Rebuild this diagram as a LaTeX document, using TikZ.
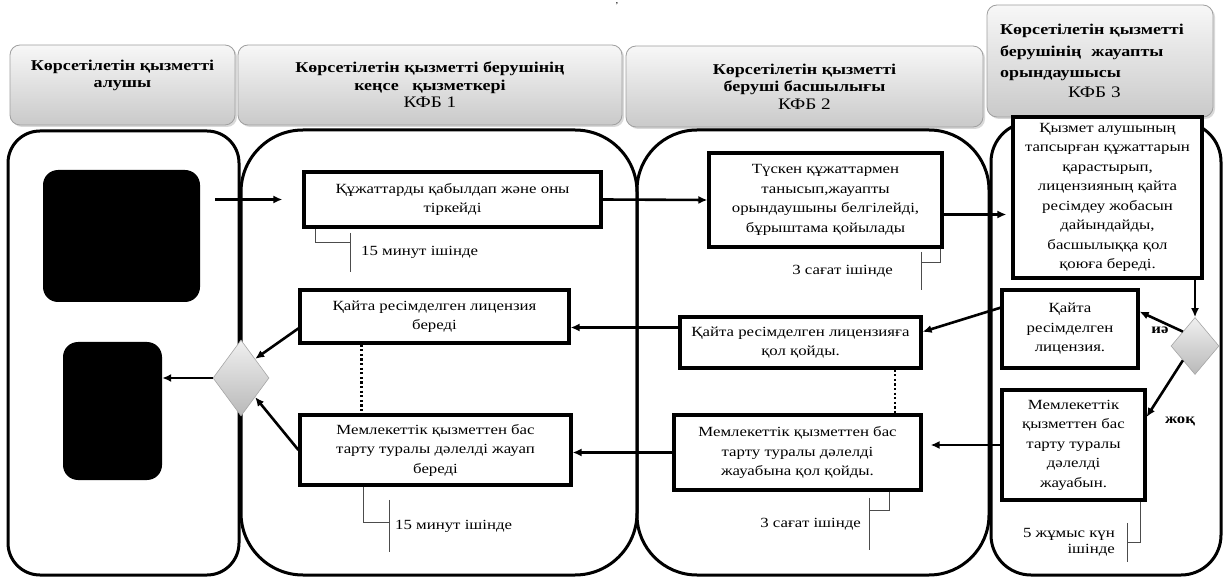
\documentclass[tikz,border=0pt]{standalone}
\usepackage{fontspec}
\setmainfont{Liberation Serif}[FakeStretch=1.2]
\usetikzlibrary{arrows.meta}
\usetikzlibrary{shapes.geometric}
\usetikzlibrary{shadows}

\begin{document}
\begin{tikzpicture}[x=1pt,y=-1pt,
  head/.style={draw=gray!75,line width=0.8pt,rounded corners=10pt,top color=gray!6,bottom color=gray!42,
    drop shadow={opacity=0.3,shadow xshift=2pt,shadow yshift=-2pt},inner sep=0pt,align=center,
    font=\fontsize{15}{17.5}\selectfont\bfseries},
  lane/.style={draw,line width=3pt,inner sep=0pt},
  blk/.style={fill=black,rounded corners=15pt,inner sep=0pt},
  box/.style={draw,line width=3.2pt,fill=white,inner sep=1pt,align=center,font=\fontsize{14}{19.5}\selectfont},
  dec/.style={diamond,draw=gray!70,line width=0.6pt,top color=gray!12,bottom color=gray!55,inner sep=0pt},
  arr/.style={-{Latex[length=9pt,width=8pt]},line width=2.6pt},
  dot/.style={line width=2.6pt,dash pattern=on 2.2pt off 2.4pt},
  brk/.style={draw=black!70,line width=1pt},
  note/.style={inner ysep=0pt,font=\fontsize{14}{16}\selectfont},
  lbl/.style={font=\fontsize{14}{15}\selectfont\bfseries}]
\useasboundingbox (0,0) rectangle (1229,577);
\node[head,minimum width=225pt,minimum height=80pt] (hA) at (122.5,85) {Көрсетілетін қызметті\\алушы\\ \strut};
\node[head,minimum width=384pt,minimum height=80pt] (hB) at (430,85) {Көрсетілетін қызметті берушінің\\кеңсе \ \ қызметкері\\{\mdseries\fontsize{16}{20}\selectfont КФБ 1}};
\node[head,minimum width=357pt,minimum height=81pt] (hC) at (804.5,86.5) {Көрсетілетін қызметті\\беруші басшылығы\\{\mdseries\fontsize{16}{20}\selectfont КФБ 2}};
\node[lane,rounded corners=32pt,minimum width=231pt,minimum height=444pt] (lA) at (123.5,353) {};
\node[lane,rounded corners=62pt,minimum width=396pt,minimum height=445pt] (lB) at (439,352.5) {};
\node[lane,rounded corners=60pt,minimum width=352pt,minimum height=445pt] (lC) at (813,352.5) {};
\node[lane,rounded corners=40pt,minimum width=230pt,minimum height=453pt] (lD) at (1106,348.5) {};
\node[head,minimum width=226pt,minimum height=112pt,align=left,text width=200pt] (hD) at (1100,61) {Көрсетілетін қызметті\\[4pt]берушінің \ жауапты\\[4pt]орындаушысы\\[2pt]\hspace*{68pt}{\mdseries\fontsize{16}{20}\selectfont КФБ 3}};
\node[blk,minimum width=157pt,minimum height=132pt] (blk1) at (121.5,236) {};
\node[blk,minimum width=99pt,minimum height=138pt] (blk2) at (112.5,411) {};
\node[box,minimum width=297pt,minimum height=55pt] (b1) at (452.5,199.5) {Құжаттарды қабылдап және оны\\тіркейді};
\node[box,minimum width=233pt,minimum height=94pt] (b2) at (825.5,200) {Түскен құжаттармен\\танысып,жауапты\\орындаушыны белгілейді,\\бұрыштама қойылады};
\node[box,minimum width=189pt,minimum height=161pt] (b3) at (1107.5,197.5) {Қызмет алушының\\тапсырған құжаттарын\\қарастырып,\\лицензияның қайта\\ресімдеу жобасын\\дайындайды,\\басшылыққа қол\\қоюға береді.};
\node[box,minimum width=136pt,minimum height=78pt] (b4) at (1070,329) {Қайта\\ресімделген\\лицензия.};
\node[box,minimum width=143pt,minimum height=110pt] (b5) at (1073.5,445) {Мемлекеттік\\қызметтен бас\\тарту туралы\\дәлелді\\жауабын.};
\node[box,minimum width=241pt,minimum height=51pt] (b6) at (800.5,342.5) {Қайта ресімделген лицензияға\\қол қойды.};
\node[box,minimum width=247pt,minimum height=75pt] (b7) at (797.5,452.5) {Мемлекеттік қызметтен бас\\тарту туралы дәлелді\\жауабына қол қойды.};
\node[box,minimum width=269pt,minimum height=53pt] (b8) at (434.5,316.5) {Қайта ресімделген лицензия\\береді};
\node[box,minimum width=271pt,minimum height=70pt] (b9) at (435.5,450) {Мемлекеттік қызметтен бас\\тарту туралы дәлелді жауап\\береді};
\node[dec,minimum width=56pt,minimum height=76pt] (d1) at (241,378) {};
\node[dec,minimum width=48pt,minimum height=57pt] (d2) at (1195,346) {};
\node[lbl] (yes) at (1160,330) {иә};
\node[lbl] (no) at (1180,421) {жоқ};
\node[note,anchor=west,minimum height=39pt,inner xsep=11pt] (t1) at (350,252.5) {15 минут ішінде};
\node[note,anchor=east,minimum height=38pt,inner xsep=28pt] (t2) at (921,271) {3 сағат ішінде};
\node[note,anchor=west,minimum height=52pt,inner xsep=6pt] (t3) at (389,526) {15 минут ішінде};
\node[note,anchor=east,minimum height=52pt,inner xsep=8pt] (t4) at (869,524) {3 сағат ішінде};
\node[note,anchor=east,minimum height=39pt,inner xsep=12pt,align=right] (t5) at (1127,542.5) {5 жұмыс күн\\ішінде};
\node[font=\fontsize{9}{9}\selectfont] (mark) at (617,6) {'};
\draw[arr,shorten <=15pt,shorten >=20pt] (blk1.east |- b1.west) -- (b1.west);
\draw[arr] (b1.east) -- (b2.west);
\draw[arr,shorten >=5pt] (b2.353) -- (b2.353 -| b3.west);
\draw[arr] (d2.north |- b3.south) -- (d2.north);
\draw[arr] (d2.north west) -- (b4.14);
\draw[arr] (d2.south west) -- (b5.21);
\draw[arr] (b4.163) -- (b6.5);
\draw[arr,shorten >=8pt] (b5.west) -- (b5.west -| b7.east);
\draw[arr] (b6.173) -- (b6.173 -| b8.east);
\draw[arr] (b7.west) -- (b7.west -| b9.east);
\draw[arr] (b8.185) -- (d1.north east);
\draw[arr] (b9.west) -- (d1.south east);
\draw[arr] (d1.west) -- (d1.west -| blk2.east);
\draw[dot] (b8.201) -- (b8.201 |- b9.north);
\draw[dot] (b6.344) -- (b6.344 |- b7.north);
\draw[brk] (t1.north west) -- (t1.south west);
\draw[brk] (b1.192) |- ([yshift=10pt]t1.west);
\draw[brk] (t2.north east) -- (t2.south east);
\draw[brk] (b2.337) |- ([yshift=8pt]t2.east);
\draw[brk] (t3.north west) -- (t3.south west);
\draw[brk] (b9.207) |- ([yshift=4pt]t3.west);
\draw[brk] (t4.north east) -- (t4.south east);
\draw[brk] (b7.337) |- ([yshift=14pt]t4.east);
\draw[brk] (t5.north east) -- (t5.south east);
\draw[brk] (b5.320) |- (t5.east);
\end{tikzpicture}
\end{document}
